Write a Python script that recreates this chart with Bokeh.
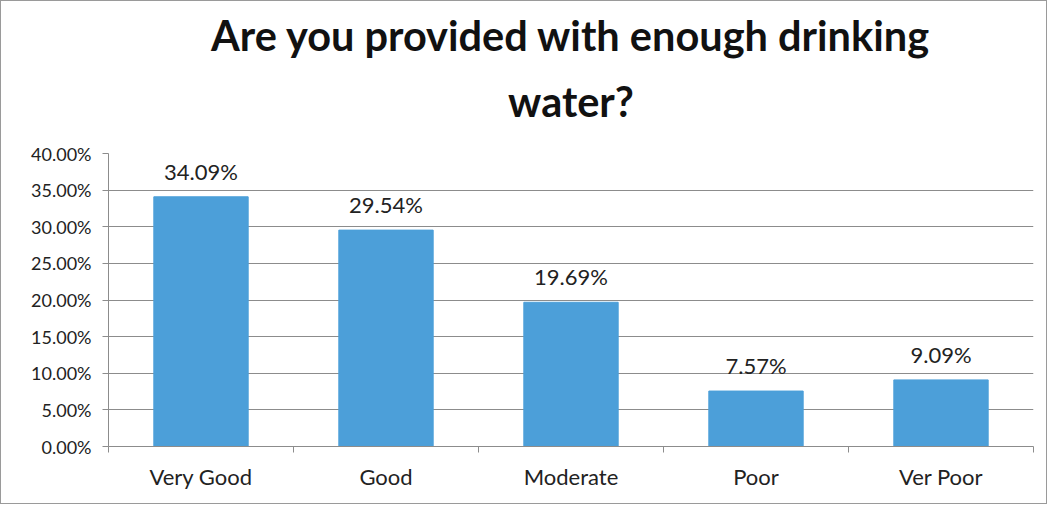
from bokeh.plotting import figure
from bokeh.models import ColumnDataSource, FixedTicker, NumeralTickFormatter, Range1d, LabelSet, Title
from bokeh.core.properties import value
from bokeh.embed import file_html
from bokeh.resources import INLINE

categories = ["Very Good", "Good", "Moderate", "Poor", "Ver Poor"]
values = [0.3409, 0.2954, 0.1969, 0.0757, 0.0909]
value_labels = ["34.09%", "29.54%", "19.69%", "7.57%", "9.09%"]
y_ticks = [0.0, 0.05, 0.10, 0.15, 0.20, 0.25, 0.30, 0.35, 0.40]
title_lines = ["Are you provided with enough drinking", "water?"]

FONT = "Lato"
positions = [i + 1 for i in range(len(categories))]
src = ColumnDataSource(dict(x=positions, top=values, lab=value_labels))

p = figure(width=1047, height=504, output_backend="svg", toolbar_location=None,
           x_range=Range1d(0.5, len(categories) + 0.5), y_range=Range1d(0, 0.40),
           min_border_left=107, min_border_right=15, min_border_bottom=59, min_border_top=0)
p.title = None

title_style = dict(align="center", text_font=FONT, text_font_size="41.5px",
                   text_font_style="bold", text_color="#111111")
# panels in "above" are stacked outward from the plot frame
t2 = Title(text=title_lines[1], standoff=55, **title_style)
t1 = Title(text=title_lines[0], standoff=-26, **title_style)
spacer = Title(text=" ", text_font_size="10px", standoff=6)
p.add_layout(t2, "above")
p.add_layout(t1, "above")
p.add_layout(spacer, "above")

p.vbar(x="x", top="top", width=0.51, source=src, color="#4c9fd9")

labels = LabelSet(x="x", y="top", text="lab", source=src, text_align="center",
                  text_baseline="alphabetic", y_offset=17, text_font=value(FONT),
                  text_font_size="22px", text_color="#222222")
p.add_layout(labels)

p.yaxis.ticker = FixedTicker(ticks=y_ticks)
p.yaxis.formatter = NumeralTickFormatter(format="0.00%")
p.yaxis.major_label_text_font = FONT
p.yaxis.major_label_text_font_size = "18px"
p.yaxis.major_label_text_color = "#222222"
p.yaxis.major_tick_out = 6
p.yaxis.major_tick_in = 0
p.yaxis.minor_tick_line_color = None
p.yaxis.axis_line_color = "#8c8c8c"
p.yaxis.major_tick_line_color = "#8c8c8c"
p.yaxis.major_label_standoff = 11

p.xaxis.ticker = FixedTicker(ticks=positions,
                             minor_ticks=[i + 0.5 for i in range(len(categories) + 1)])
p.xaxis.major_label_overrides = {pos: c for pos, c in zip(positions, categories)}
p.xaxis.major_tick_line_color = None
p.xaxis.minor_tick_out = 6
p.xaxis.minor_tick_in = 0
p.xaxis.minor_tick_line_color = "#8c8c8c"
p.xaxis.axis_line_color = "#8c8c8c"
p.xaxis.major_label_text_font = FONT
p.xaxis.major_label_text_font_size = "22px"
p.xaxis.major_label_text_color = "#222222"
p.xaxis.major_label_standoff = 10

p.xgrid.grid_line_color = None
p.ygrid.grid_line_color = "#8c8c8c"
p.ygrid.grid_line_width = 1
p.outline_line_color = None
p.background_fill_color = "white"
p.border_fill_color = "white"
p.styles = {"border": "1px solid #9a9a9a"}

open("out.html", "w").write(file_html(p, INLINE))
